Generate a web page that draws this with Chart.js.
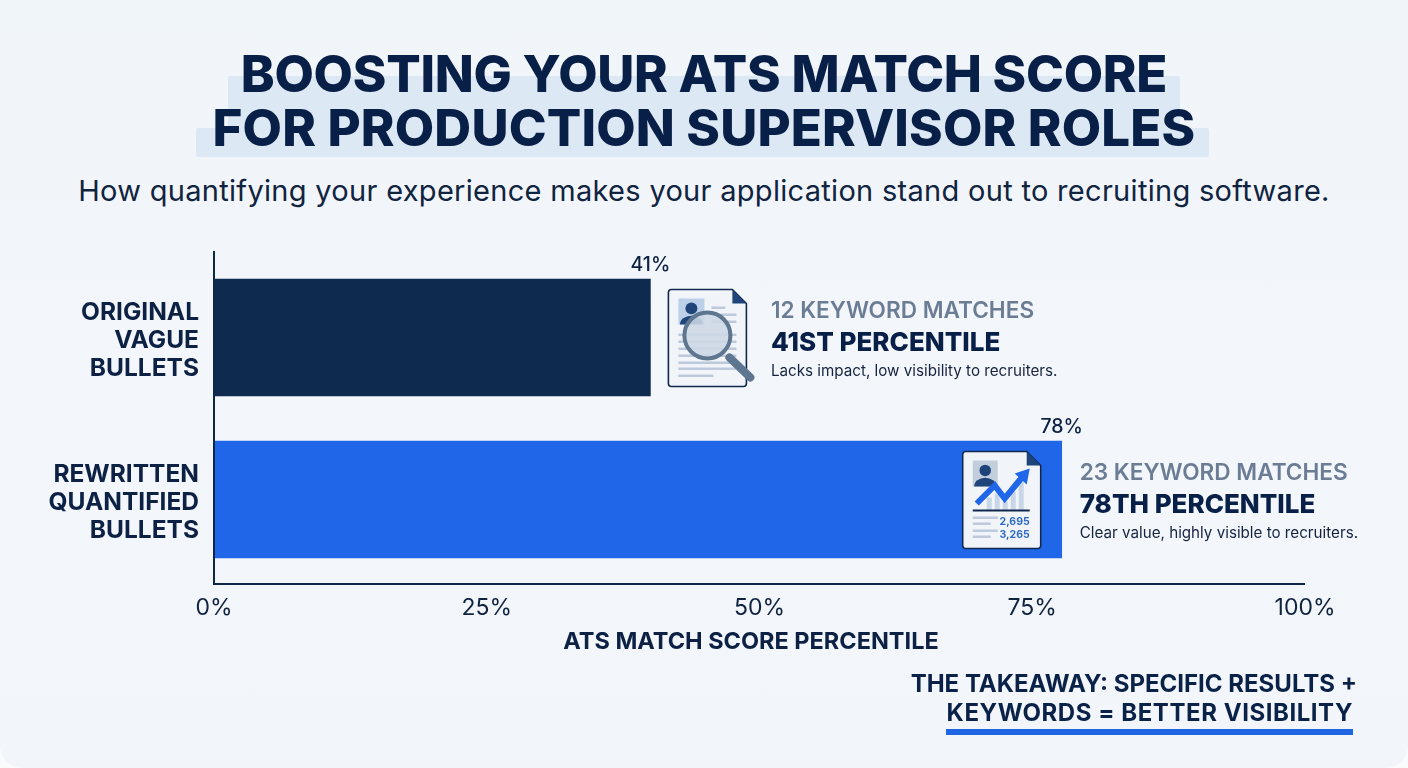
<!DOCTYPE html>
<html>
<head>
<meta charset="utf-8">
<title>ATS match score</title>
<script src="https://cdn.jsdelivr.net/npm/chart.js@4/dist/chart.umd.min.js"></script>
<style>
  html, body { margin: 0; padding: 0; background: #fafbfd; }
  body { width: 1408px; height: 768px; overflow: hidden; position: relative; font-family: Inter, sans-serif; color: #0c2144; }
  #card { position: absolute; inset: 0; border-radius: 0 0 22px 22px; background: linear-gradient(180deg, #f0f5fa 0%, #f3f6fb 50%, #f2f6fb 100%); }
  .band { position: absolute; background: #dce8f4; border-radius: 2px; }
  .head { position: absolute; left: 0; width: 1408px; text-align: center; font-weight: 800; font-size: 51px; line-height: 54px; white-space: nowrap; color: #081f47; }
  #sub { position: absolute; left: 0; width: 1408px; top: 172px; text-align: center; font-size: 29px; letter-spacing: 0.3px; line-height: 38px; white-space: nowrap; color: #10233f; }
  #axisTitle { position: absolute; left: 451px; width: 600px; top: 627px; text-align: center; font-weight: 700; font-size: 23.5px; line-height: 28px; white-space: nowrap; color: #0c2144; }
  .take { position: absolute; text-align: right; font-weight: 700; font-size: 24px; line-height: 29px; white-space: nowrap; color: #0a2148; }
  #rule { position: absolute; left: 946px; top: 729px; width: 407px; height: 6px; background: #1f66e5; }
  #plot { position: absolute; left: 0; top: 0; }
</style>
</head>
<body>
<div id="card"></div>
<div class="band" style="left:228px;top:76px;width:952px;height:54px"></div>
<div class="band" style="left:196px;top:128px;width:1013px;height:29px"></div>
<div class="head" style="top:47px;letter-spacing:-0.27px">BOOSTING YOUR ATS MATCH SCORE</div>
<div class="head" style="top:101px;letter-spacing:0.17px">FOR PRODUCTION SUPERVISOR ROLES</div>
<div id="sub">How quantifying your experience makes your application stand out to recruiting software.</div>
<canvas id="plot" width="1408" height="768"></canvas>
<div id="axisTitle">ATS MATCH SCORE PERCENTILE</div>
<div class="take" style="top:669px;right:51px">THE TAKEAWAY: SPECIFIC RESULTS +</div>
<div class="take" style="top:698px;right:55px;letter-spacing:0.55px">KEYWORDS = BETTER VISIBILITY</div>
<div id="rule"></div>

<script>
// ---------------------------------------------------------------------------
// Data
// ---------------------------------------------------------------------------
const categories = [
  ['ORIGINAL', 'VAGUE', 'BULLETS'],
  ['REWRITTEN', 'QUANTIFIED', 'BULLETS'],
];
// bar lengths as drawn in the reference (they sit slightly short of the printed figures)
const barValues = [40, 77.7];
const valueLabels = ['41%', '78%'];
const barColors = ['#0f2a4f', '#1f66e8'];
const xTicks = [0, 25, 50, 75, 100];
const keywordLines = ['12 KEYWORD MATCHES', '23 KEYWORD MATCHES'];
const percentileLines = ['41ST PERCENTILE', '78TH PERCENTILE'];
const noteLines = ['Lacks impact, low visibility to recruiters.', 'Clear value, highly visible to recruiters.'];

const NAVY = '#0c2144';
const FONT = 'Inter, sans-serif';

// ---------------------------------------------------------------------------
// Document icons
// ---------------------------------------------------------------------------
function docOutline(ctx, x, y) {
  const w = 78, h = 97, fold = 14;
  ctx.beginPath();
  ctx.moveTo(x + 3, y);
  ctx.lineTo(x + w - fold, y);
  ctx.lineTo(x + w, y + fold);
  ctx.lineTo(x + w, y + h - 3);
  ctx.quadraticCurveTo(x + w, y + h, x + w - 3, y + h);
  ctx.lineTo(x + 3, y + h);
  ctx.quadraticCurveTo(x, y + h, x, y + h - 3);
  ctx.lineTo(x, y + 3);
  ctx.quadraticCurveTo(x, y, x + 3, y);
  ctx.closePath();
  ctx.fillStyle = '#f1f5fa';
  ctx.fill();
  ctx.strokeStyle = '#11294f';
  ctx.lineWidth = 1.6;
  ctx.stroke();
  ctx.beginPath();
  ctx.moveTo(x + w - fold, y);
  ctx.lineTo(x + w - fold, y + fold);
  ctx.lineTo(x + w, y + fold);
  ctx.closePath();
  ctx.fillStyle = '#1e4479';
  ctx.fill();
}

function person(ctx, x, y, w, h, bg) {
  ctx.fillStyle = bg;
  ctx.fillRect(x, y, w, h);
  ctx.fillStyle = '#1e4479';
  ctx.beginPath();
  ctx.arc(x + w / 2, y + h * 0.38, w * 0.23, 0, Math.PI * 2);
  ctx.fill();
  ctx.beginPath();
  ctx.ellipse(x + w / 2, y + h, w * 0.44, h * 0.34, 0, Math.PI, 0);
  ctx.fill();
}

function textLine(ctx, x, y, w, color) {
  ctx.fillStyle = color || '#bccadb';
  ctx.fillRect(x, y, w, 2.5);
}

function drawSearchIcon(ctx, x, y) {
  docOutline(ctx, x, y);
  person(ctx, x + 10, y + 9, 26, 26, '#bcd0ea');
  textLine(ctx, x + 43, y + 17, 14);
  textLine(ctx, x + 43, y + 24, 25);
  textLine(ctx, x + 43, y + 31, 25);
  [44, 51, 58, 65].forEach(d => textLine(ctx, x + 10, y + d, 58));
  textLine(ctx, x + 10, y + 72, 58);
  textLine(ctx, x + 10, y + 78, 58);
  textLine(ctx, x + 10, y + 85, 35);
  const cx = x + 39, cy = y + 46;
  ctx.strokeStyle = '#5f7690';
  ctx.lineCap = 'round';
  ctx.lineWidth = 8;
  ctx.beginPath();
  ctx.moveTo(cx + 22, cy + 22);
  ctx.lineTo(cx + 43, cy + 42);
  ctx.stroke();
  ctx.lineCap = 'butt';
  ctx.beginPath();
  ctx.arc(cx, cy, 23, 0, Math.PI * 2);
  ctx.fillStyle = 'rgba(205,216,230,0.88)';
  ctx.fill();
  ctx.lineWidth = 4;
  ctx.stroke();
}

function drawGrowthIcon(ctx, x, y) {
  docOutline(ctx, x, y);
  person(ctx, x + 10, y + 9, 25, 26, '#c3cedd');
  ctx.fillStyle = '#c8d7e8';
  [[24, 46], [32, 42], [40, 50], [48, 40], [56, 30]].forEach(b => {
    ctx.fillRect(x + b[0], y + b[1], 5, 59 - b[1]);
  });
  ctx.strokeStyle = '#1f66e8';
  ctx.lineWidth = 6;
  ctx.lineJoin = 'miter';
  ctx.beginPath();
  ctx.moveTo(x + 14, y + 52);
  ctx.lineTo(x + 32, y + 34);
  ctx.lineTo(x + 42, y + 47);
  ctx.lineTo(x + 60, y + 25);
  ctx.stroke();
  ctx.fillStyle = '#1f66e8';
  ctx.beginPath();
  ctx.moveTo(x + 67, y + 17);
  ctx.lineTo(x + 52, y + 22);
  ctx.lineTo(x + 64, y + 33);
  ctx.closePath();
  ctx.fill();
  ctx.fillStyle = '#11294f';
  ctx.fillRect(x + 10, y + 58, 57, 2);
  textLine(ctx, x + 10, y + 65, 25);
  textLine(ctx, x + 10, y + 71, 18);
  textLine(ctx, x + 10, y + 78, 25);
  textLine(ctx, x + 10, y + 84, 18);
  ctx.fillStyle = '#2f6bc4';
  ctx.font = '700 10.5px ' + FONT;
  ctx.textAlign = 'right';
  ctx.textBaseline = 'middle';
  ctx.fillText('2,695', x + 67, y + 70);
  ctx.fillText('3,265', x + 67, y + 83);
}

// ---------------------------------------------------------------------------
// Bar labels and the callouts next to each bar
// ---------------------------------------------------------------------------
const calloutPlugin = {
  id: 'callouts',
  afterDatasetsDraw(chart) {
    const ctx = chart.ctx;
    const bars = chart.getDatasetMeta(0).data;
    bars.forEach((bar, i) => {
      ctx.save();
      ctx.textBaseline = 'middle';
      ctx.textAlign = 'center';
      ctx.fillStyle = NAVY;
      ctx.font = '500 19.5px ' + FONT;
      ctx.fillText(valueLabels[i], bar.x, bar.y - 72.5);

      // first callout sits outside the bar, second one past its end
      const iconX = i === 0 ? bar.x + 18 : bar.x - 99;
      const textX = i === 0 ? bar.x + 120.5 : bar.x + 18;
      if (i === 0) drawSearchIcon(ctx, iconX, bar.y - 48);
      else drawGrowthIcon(ctx, iconX, bar.y - 48);

      ctx.textAlign = 'left';
      ctx.textBaseline = 'middle';
      ctx.fillStyle = '#6b7d94';
      ctx.font = '600 22.6px ' + FONT;
      ctx.fillText(keywordLines[i], textX, bar.y - 26);
      ctx.fillStyle = '#081f47';
      ctx.font = '800 26px ' + FONT;
      ctx.fillText(percentileLines[i], textX, bar.y + 6);
      ctx.fillStyle = '#14233f';
      ctx.font = '400 15.2px ' + FONT;
      ctx.fillText(noteLines[i], textX, bar.y + 34);
      ctx.restore();
    });
  },
};

// the axis lines run a few pixels past the category bands
const axisLinesPlugin = {
  id: 'axisLines',
  afterDraw(chart) {
    const ctx = chart.ctx;
    const a = chart.chartArea;
    ctx.save();
    ctx.strokeStyle = '#0f2747';
    ctx.lineWidth = 2;
    ctx.beginPath();
    ctx.moveTo(a.left, a.top - 5.5);
    ctx.lineTo(a.left, a.bottom + 3.5);
    ctx.lineTo(a.right, a.bottom + 3.5);
    ctx.stroke();
    ctx.restore();
  },
};

new Chart(document.getElementById('plot'), {
  type: 'bar',
  data: {
    labels: categories,
    datasets: [{
      data: barValues,
      backgroundColor: barColors,
      borderWidth: 0,
      barThickness: 117,
    }],
  },
  plugins: [calloutPlugin, axisLinesPlugin],
  options: {
    indexAxis: 'y',
    responsive: false,
    animation: false,
    layout: { padding: { top: 256.5, right: 103 } },
    plugins: { legend: { display: false }, tooltip: { enabled: false } },
    scales: {
      x: {
        min: 0,
        max: 100,
        afterFit: s => { s.height = 187.5; },
        afterBuildTicks: s => { s.ticks = xTicks.map(v => ({ value: v })); },
        grid: { display: false },
        border: { display: false },
        ticks: {
          maxRotation: 0,
          padding: 6,
          color: '#10233f',
          font: { family: FONT, size: 23, weight: '400' },
          callback: v => v + '%',
        },
      },
      y: {
        afterFit: s => { s.width = 214; },
        grid: { display: false },
        border: { display: false },
        ticks: {
          padding: 7,
          labelOffset: 3,
          color: NAVY,
          font: { family: FONT, size: 24.5, weight: '700', lineHeight: 1.143 },
        },
      },
    },
  },
});
</script>
</body>
</html>
